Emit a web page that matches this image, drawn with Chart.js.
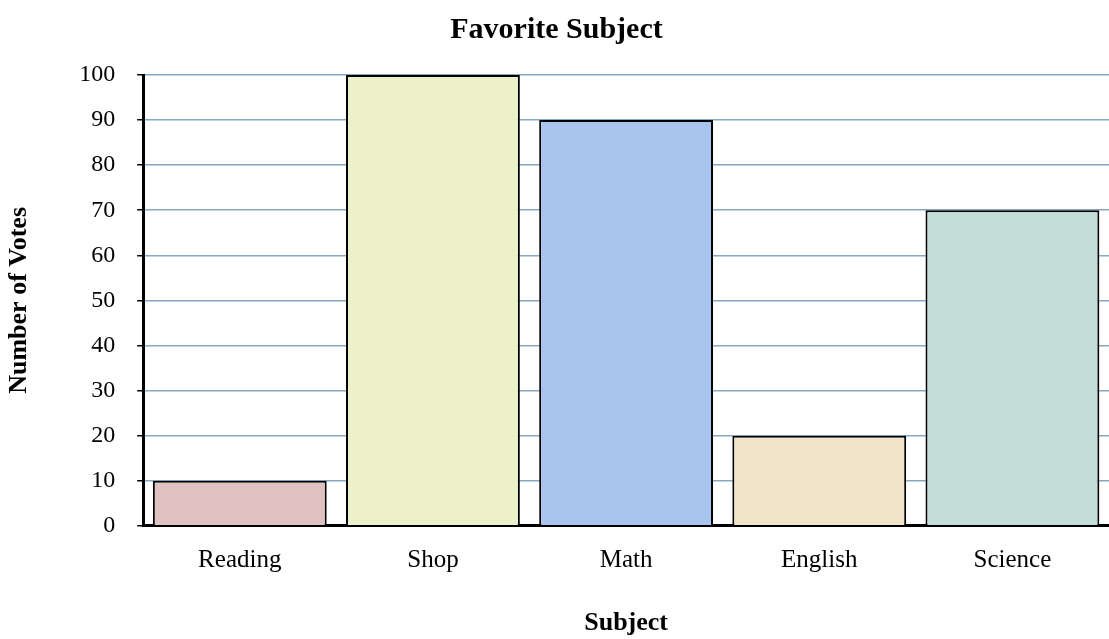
<!DOCTYPE html>
<html><head><meta charset="utf-8">
<script src="https://cdn.jsdelivr.net/npm/chart.js@4/dist/chart.umd.min.js"></script>
<style>html,body{margin:0;padding:0;background:#fff}#wrap{width:1109px;height:639px}</style>
</head><body><div id="wrap"><canvas id="c" width="1109" height="639"></canvas></div>
<script>
const categories = ['Reading','Shop','Math','English','Science'];
const votes = [10,100,90,20,70];
const barColors = ['#dfc1c1','#ecf1c9','#a9c5ee','#f1e5c9','#c3ddd9'];
const yTicks = {min:0,max:100,step:10};
const serif = "'Liberation Serif','Times New Roman',serif";
new Chart(document.getElementById('c'),{
  type:'bar',
  data:{labels:categories,datasets:[{data:votes,backgroundColor:barColors,borderColor:'#000',borderWidth:2,barPercentage:0.9,categoryPercentage:1}]},
  options:{
    responsive:false,animation:false,
    layout:{padding:{left:4,right:0,top:0,bottom:0}},
    plugins:{legend:{display:false},tooltip:{enabled:false},
      title:{display:true,text:'Favorite Subject',color:'#000',font:{family:serif,size:30,weight:'bold'},padding:{top:12,bottom:27}}},
    scales:{
      x:{grid:{display:false,drawTicks:false,tickLength:0},border:{color:'#000',width:3},
        ticks:{color:'#000',font:{family:serif,size:25},padding:20},
        title:{display:true,text:'Subject',color:'#000',font:{family:serif,size:26,weight:'bold'},padding:{top:12,bottom:0}}},
      y:{min:yTicks.min,max:yTicks.max,border:{color:'#000',width:3},
        grid:{color:'#87a7c0',lineWidth:1.5,tickColor:'#000',tickLength:6,drawTicks:true},
        ticks:{stepSize:yTicks.step,color:'#000',font:{family:serif,size:24},padding:22},
        title:{display:true,text:'Number of Votes',color:'#000',font:{family:serif,size:26,weight:'bold'},padding:{top:0,bottom:22}}}
    }
  }
});
</script></body></html>
